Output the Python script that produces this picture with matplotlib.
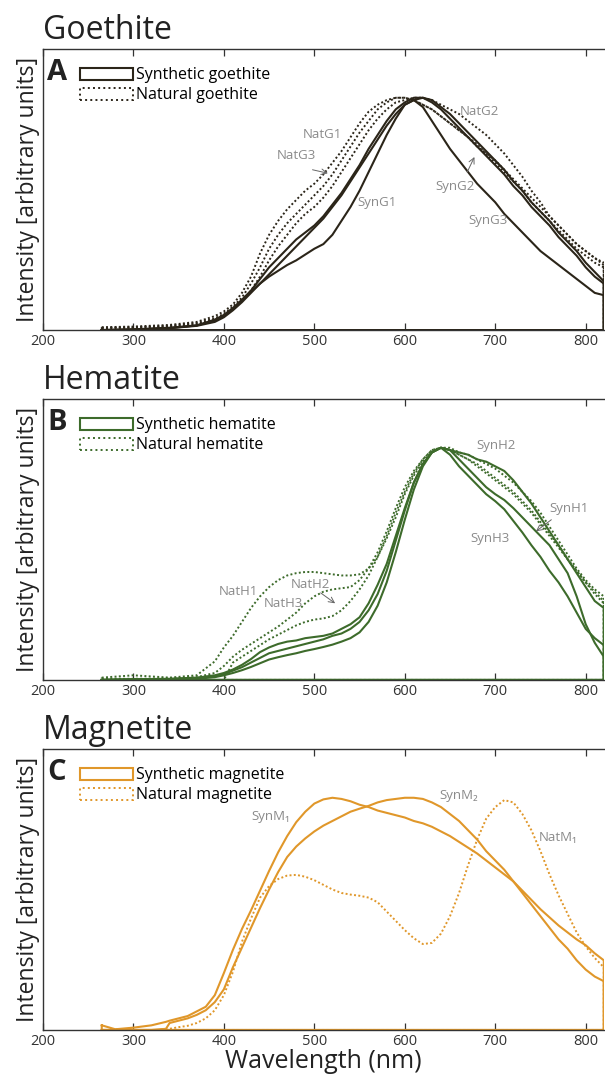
import matplotlib.pyplot as plt
from matplotlib.patches import Patch

plt.rcParams['font.family'] = ['Open Sans', 'DejaVu Sans']

# wavelength grid (nm) shared by goethite and hematite spectra
wl = [265, 300, 340, 370, 390, 400, 410, 420, 430, 440, 450, 460, 470, 480, 490, 500,
      510, 520, 530, 540, 550, 560, 570, 580, 590, 600, 610, 620, 630, 640, 650, 660,
      670, 680, 690, 700, 710, 720, 730, 740, 750, 760, 770, 780, 790, 800, 810, 820]

# goethite, normalised intensity
syn_g1 = [0, 0.002, 0.008, 0.02, 0.045, 0.065, 0.095, 0.13, 0.165, 0.2, 0.23, 0.255, 0.28, 0.3, 0.325, 0.35,
          0.37, 0.41, 0.47, 0.53, 0.6, 0.68, 0.76, 0.84, 0.91, 0.97, 0.99, 0.96, 0.9, 0.84, 0.78, 0.73,
          0.68, 0.63, 0.59, 0.55, 0.5, 0.46, 0.42, 0.38, 0.34, 0.31, 0.28, 0.25, 0.22, 0.19, 0.16, 0.15]
syn_g2 = [0, 0.003, 0.01, 0.02, 0.04, 0.06, 0.09, 0.13, 0.17, 0.22, 0.27, 0.31, 0.35, 0.39, 0.42, 0.45,
          0.49, 0.54, 0.59, 0.65, 0.71, 0.78, 0.84, 0.9, 0.95, 0.98, 1.0, 1.0, 0.98, 0.95, 0.91, 0.87,
          0.83, 0.79, 0.75, 0.71, 0.67, 0.62, 0.58, 0.53, 0.49, 0.45, 0.4, 0.36, 0.32, 0.27, 0.23, 0.2]
syn_g3 = [0, 0.002, 0.008, 0.018, 0.035, 0.055, 0.085, 0.12, 0.16, 0.2, 0.24, 0.28, 0.32, 0.36, 0.4, 0.44,
          0.48, 0.53, 0.58, 0.64, 0.7, 0.76, 0.82, 0.88, 0.93, 0.97, 0.99, 1.0, 0.99, 0.96, 0.93, 0.89,
          0.85, 0.81, 0.77, 0.73, 0.69, 0.64, 0.6, 0.55, 0.51, 0.47, 0.42, 0.38, 0.34, 0.29, 0.25, 0.21]
nat_g1 = [0.012, 0.015, 0.022, 0.035, 0.06, 0.08, 0.11, 0.16, 0.23, 0.33, 0.41, 0.47, 0.52, 0.56, 0.6, 0.63,
          0.67, 0.72, 0.77, 0.83, 0.89, 0.94, 0.97, 0.99, 1.0, 1.0, 0.99, 0.97, 0.95, 0.92, 0.89, 0.86,
          0.83, 0.79, 0.76, 0.72, 0.68, 0.64, 0.6, 0.55, 0.51, 0.47, 0.43, 0.39, 0.35, 0.32, 0.29, 0.27]
nat_g3 = [0.01, 0.012, 0.018, 0.03, 0.05, 0.07, 0.1, 0.14, 0.2, 0.27, 0.35, 0.41, 0.46, 0.5, 0.54, 0.58,
          0.62, 0.67, 0.73, 0.79, 0.85, 0.9, 0.95, 0.98, 1.0, 1.0, 0.99, 0.97, 0.95, 0.92, 0.89, 0.86,
          0.83, 0.8, 0.76, 0.73, 0.69, 0.65, 0.61, 0.57, 0.53, 0.49, 0.45, 0.41, 0.37, 0.34, 0.31, 0.29]
nat_g2 = [0.008, 0.01, 0.015, 0.025, 0.045, 0.065, 0.09, 0.125, 0.17, 0.23, 0.3, 0.36, 0.41, 0.46, 0.5, 0.53,
          0.57, 0.62, 0.68, 0.74, 0.8, 0.86, 0.91, 0.95, 0.98, 0.99, 1.0, 1.0, 0.99, 0.97, 0.95, 0.93,
          0.9, 0.87, 0.84, 0.8, 0.76, 0.71, 0.66, 0.6, 0.55, 0.49, 0.45, 0.41, 0.37, 0.34, 0.31, 0.28]

# hematite, normalised intensity
syn_h2 = [0, 0.003, 0.005, 0.01, 0.02, 0.03, 0.045, 0.065, 0.09, 0.12, 0.14, 0.155, 0.165, 0.17, 0.18, 0.185,
          0.19, 0.2, 0.22, 0.24, 0.27, 0.33, 0.41, 0.5, 0.62, 0.74, 0.85, 0.93, 0.98, 1.0, 0.99, 0.98,
          0.97, 0.95, 0.94, 0.92, 0.9, 0.86, 0.81, 0.76, 0.7, 0.64, 0.58, 0.52, 0.46, 0.4, 0.34, 0.31]
syn_h1 = [0, 0.002, 0.004, 0.008, 0.015, 0.025, 0.04, 0.055, 0.075, 0.095, 0.115, 0.125, 0.135, 0.145, 0.155, 0.165,
          0.175, 0.19, 0.2, 0.22, 0.25, 0.3, 0.37, 0.47, 0.6, 0.73, 0.85, 0.93, 0.98, 1.0, 0.99, 0.95,
          0.91, 0.87, 0.83, 0.8, 0.775, 0.74, 0.7, 0.66, 0.62, 0.58, 0.52, 0.46, 0.36, 0.24, 0.16, 0.1]
syn_h3 = [0, 0.002, 0.003, 0.006, 0.012, 0.02, 0.03, 0.042, 0.056, 0.072, 0.088, 0.098, 0.107, 0.115, 0.125, 0.133,
          0.142, 0.152, 0.165, 0.18, 0.205, 0.25, 0.32, 0.42, 0.55, 0.69, 0.82, 0.92, 0.98, 1.0, 0.97, 0.92,
          0.88, 0.84, 0.8, 0.77, 0.735, 0.685, 0.635, 0.58, 0.53, 0.47, 0.42, 0.36, 0.29, 0.22, 0.18, 0.15]
nat_h1 = [0.01, 0.02, 0.01, 0.02, 0.08, 0.14, 0.19, 0.25, 0.31, 0.36, 0.4, 0.43, 0.45, 0.46, 0.465, 0.465,
          0.46, 0.455, 0.45, 0.45, 0.455, 0.48, 0.53, 0.61, 0.7, 0.8, 0.88, 0.94, 0.98, 1.0, 1.0, 0.98,
          0.97, 0.95, 0.93, 0.91, 0.88, 0.85, 0.81, 0.77, 0.72, 0.66, 0.6, 0.54, 0.48, 0.43, 0.39, 0.36]
nat_h2 = [0.005, 0.005, 0.006, 0.012, 0.03, 0.06, 0.1, 0.13, 0.155, 0.18, 0.205, 0.23, 0.26, 0.29, 0.33, 0.36,
          0.38, 0.39, 0.395, 0.4, 0.43, 0.48, 0.55, 0.64, 0.74, 0.83, 0.9, 0.95, 0.99, 1.0, 0.99, 0.97,
          0.95, 0.93, 0.9, 0.87, 0.84, 0.81, 0.77, 0.73, 0.68, 0.63, 0.58, 0.52, 0.47, 0.42, 0.38, 0.34]
nat_h3 = [0, 0, 0, 0, 0, 0, 0.075, 0.1, 0.125, 0.15, 0.175, 0.195, 0.215, 0.235, 0.25, 0.26,
          0.265, 0.275, 0.3, 0.34, 0.39, 0.45, 0.53, 0.62, 0.72, 0.81, 0.89, 0.95, 0.99, 1.0, 0.99, 0.97,
          0.95, 0.92, 0.89, 0.86, 0.83, 0.8, 0.76, 0.72, 0.67, 0.62, 0.57, 0.52, 0.47, 0.42, 0.37, 0.33]

# magnetite grid and spectra
wl_m = [265, 280, 300, 320, 336, 340, 350, 360, 370, 380, 390, 400, 410, 420, 430, 440,
        450, 460, 470, 480, 490, 500, 510, 520, 530, 540, 550, 560, 570, 580, 590, 600,
        610, 620, 630, 640, 650, 660, 670, 680, 690, 700, 710, 720, 730, 740, 750, 760,
        770, 780, 790, 800, 810, 820]
syn_m1 = [0.02, 0.003, 0.01, 0.02, 0.035, 0.04, 0.05, 0.06, 0.08, 0.1, 0.15, 0.245, 0.345, 0.435, 0.515, 0.6,
          0.685, 0.765, 0.835, 0.895, 0.94, 0.975, 0.993, 1.0, 0.995, 0.985, 0.97, 0.96, 0.945, 0.935, 0.925, 0.915,
          0.9, 0.89, 0.875, 0.855, 0.835, 0.81, 0.785, 0.76, 0.73, 0.7, 0.67, 0.64, 0.6, 0.56, 0.52, 0.485,
          0.45, 0.42, 0.39, 0.365, 0.33, 0.3]
syn_m2 = [0, 0, 0, 0, 0.005, 0.03, 0.04, 0.05, 0.065, 0.085, 0.12, 0.175, 0.27, 0.355, 0.44, 0.525,
          0.605, 0.68, 0.745, 0.79, 0.825, 0.855, 0.88, 0.9, 0.92, 0.94, 0.953, 0.965, 0.98, 0.99, 0.995, 1.0,
          1.0, 0.995, 0.98, 0.96, 0.93, 0.9, 0.86, 0.82, 0.77, 0.73, 0.69, 0.64, 0.59, 0.54, 0.49, 0.44,
          0.39, 0.35, 0.3, 0.26, 0.23, 0.21]
nat_m1 = [0, 0, 0, 0, 0, 0.005, 0.012, 0.018, 0.03, 0.05, 0.085, 0.15, 0.25, 0.38, 0.48, 0.57,
          0.62, 0.65, 0.665, 0.668, 0.66, 0.645, 0.625, 0.605, 0.59, 0.583, 0.578, 0.57, 0.55, 0.51, 0.47, 0.43,
          0.395, 0.37, 0.375, 0.415, 0.49, 0.59, 0.71, 0.82, 0.91, 0.96, 0.99, 0.98, 0.93, 0.86, 0.77, 0.67,
          0.58, 0.5, 0.42, 0.36, 0.31, 0.27]

ticks = [200, 300, 400, 500, 600, 700, 800]
label_grey = '#8a8a8a'


def spectrum(ax, x, y, color, ls):
    # closed outline: spectrum, drop to zero at the end, back along the baseline
    xs = x + [x[-1], x[0], x[0]]
    ys = y + [0, 0, y[0]]
    ax.plot(xs, ys, color=color, ls=ls, lw=1.5 if ls == '-' else 1.4, solid_joinstyle='round')


def panel(rect, letter, title, color, syn, nat, x, name):
    ax = fig.add_axes(rect)
    for s in syn:
        spectrum(ax, x, s, color, '-')
    for n in nat:
        spectrum(ax, x, n, color, (0, (1, 1.2)))
    ax.set_xlim(200, 820)
    ax.set_ylim(0, 1.21)
    ax.set_xticks(ticks)
    ax.set_yticks([])
    ax.tick_params(axis='x', direction='in', top=True, bottom=True, length=5, width=0.9,
                   labelsize=10.5, colors='#333333', pad=3)
    ax.spines['right'].set_visible(False)
    for sp in ['left', 'top', 'bottom']:
        ax.spines[sp].set_color('#333333')
        ax.spines[sp].set_linewidth(1.0)
    ax.set_ylabel('Intensity [arbitrary units]', fontsize=16.5, color='#222222', labelpad=2)
    ax.text(0.008, 0.968, letter, transform=ax.transAxes, fontsize=21, fontweight='bold',
            va='top', ha='left', color='#222222')
    fig.text(rect[0], rect[1] + rect[3] + 0.017, title, fontsize=23, color='#222222',
             va='center', ha='left')
    handles = [Patch(facecolor='none', edgecolor=color, lw=1.5, ls='-'),
               Patch(facecolor='none', edgecolor=color, lw=1.4, ls=':')]
    ax.legend(handles, ['Synthetic ' + name, 'Natural ' + name], loc='upper left',
              bbox_to_anchor=(0.066, 0.935), frameon=False, fontsize=11.5,
              handlelength=3.3, handleheight=0.75, handletextpad=0.2, labelspacing=0.25,
              borderpad=0, borderaxespad=0)
    return ax


def note(ax, x, y, s):
    ax.text(x, y, s, fontsize=9.5, color=label_grey, ha='center', va='center')


def pointer(ax, tail, tip):
    ax.annotate('', xy=tip, xytext=tail,
                arrowprops=dict(arrowstyle='->', color='#666666', lw=0.7, shrinkA=0, shrinkB=0))


fig = plt.figure(figsize=(6.05, 10.74), dpi=100)

# Goethite
ax1 = panel([0.071, 0.6927, 0.927, 0.2617], 'A', 'Goethite', '#2b2519',
            [syn_g1, syn_g2, syn_g3], [nat_g1, nat_g3, nat_g2], wl, 'goethite')
note(ax1, 509, 0.84, 'NatG1')
note(ax1, 480, 0.75, 'NatG3')
pointer(ax1, (498, 0.69), (515, 0.675))
note(ax1, 683, 0.94, 'NatG2')
note(ax1, 656, 0.62, 'SynG2')
pointer(ax1, (669, 0.68), (677, 0.745))
note(ax1, 569, 0.55, 'SynG1')
note(ax1, 692, 0.47, 'SynG3')

# Hematite
ax2 = panel([0.071, 0.3669, 0.927, 0.2616], 'B', 'Hematite', '#3d6b2b',
            [syn_h1, syn_h2, syn_h3], [nat_h1, nat_h2, nat_h3], wl, 'hematite')
note(ax2, 701, 1.01, 'SynH2')
note(ax2, 781, 0.74, 'SynH1')
pointer(ax2, (762, 0.69), (745, 0.64))
note(ax2, 694, 0.61, 'SynH3')
note(ax2, 416, 0.38, 'NatH1')
note(ax2, 496, 0.41, 'NatH2')
note(ax2, 466, 0.33, 'NatH3')
pointer(ax2, (507, 0.375), (523, 0.33))

# Magnetite
ax3 = panel([0.071, 0.041, 0.927, 0.2616], 'C', 'Magnetite', '#e0972a',
            [syn_m1, syn_m2], [nat_m1], wl_m, 'magnetite')
note(ax3, 452, 0.92, 'SynM₁')
note(ax3, 660, 1.01, 'SynM₂')
note(ax3, 770, 0.83, 'NatM₁')
ax3.set_xlabel('Wavelength (nm)', fontsize=18, color='#222222', labelpad=0)

fig.savefig('out.png', dpi=100)
